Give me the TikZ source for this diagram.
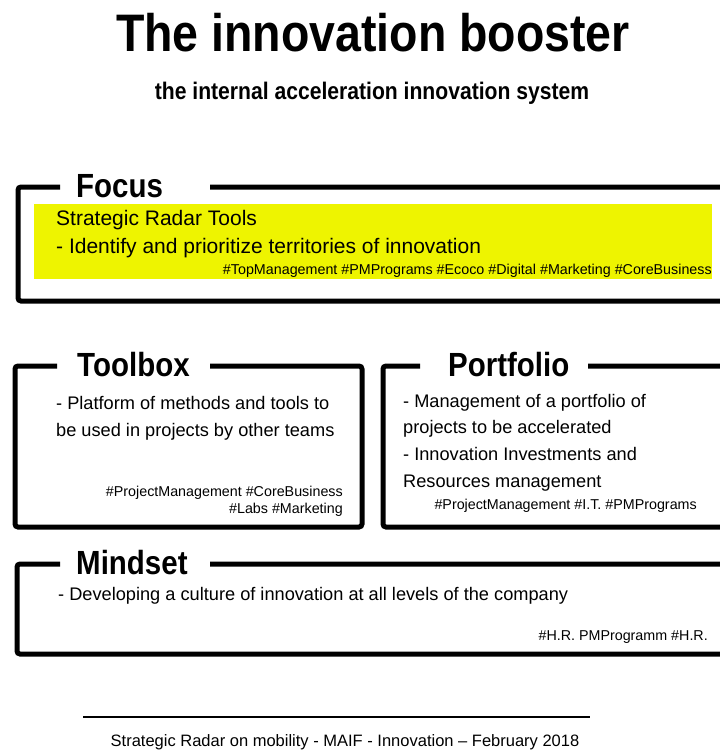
\documentclass[tikz,border=0pt]{standalone}
\usepackage{fontspec}
\setmainfont{Liberation Sans}
\newfontfamily\condfont[FakeStretch=0.88]{Liberation Sans}
\usetikzlibrary{positioning}
\definecolor{hiyel}{HTML}{EEF400}
\tikzset{
  frame/.style={draw=black,line width=5pt,rounded corners=3pt},
  ttl/.style={font=\condfont\bfseries\fontsize{52.8}{56}\selectfont,inner sep=0pt,anchor=base},
  sub/.style={font=\condfont\bfseries\fontsize{24}{27}\selectfont,inner sep=0pt,anchor=base},
  hd/.style={font=\condfont\bfseries\fontsize{33.5}{36}\selectfont,inner sep=0pt,anchor=base west},
  big/.style={font=\fontsize{21}{24}\selectfont,inner sep=0pt,anchor=base west},
  txt/.style={font=\fontsize{18.2}{22}\selectfont,inner sep=0pt,anchor=base west},
  tag/.style={font=\fontsize{14.3}{18}\selectfont,inner sep=0pt,anchor=base east},
  foot/.style={font=\fontsize{16.5}{20}\selectfont,inner sep=0pt,anchor=base},
}
\begin{document}
\begin{tikzpicture}[x=1pt,y=-1pt]
  \useasboundingbox (0,0) rectangle (720,753);
  \clip (0,0) rectangle (720,753);
  % titre
  \node[ttl] (title) at (373,51) {The innovation booster};
  \node[sub] (subtitle) at (372,99) {the internal acceleration innovation system};
  % Focus
  \fill[hiyel] (34,204) rectangle (712,279);
  \draw[frame] (60,187) -| (18,301) -| (760,187) -- (210,187);
  \node[hd] (focus) at (76,197) {Focus};
  \node[big] (f1) at (56,225) {Strategic Radar Tools};
  \node[big] (f2) at (56,253) {- Identify and prioritize territories of innovation};
  \node[tag] (ftag) at (712,274) {\#TopManagement \#PMPrograms \#Ecoco \#Digital \#Marketing \#CoreBusiness};
  % Toolbox
  \draw[frame] (57,366) -| (15,527) -| (362,366) -- (210,366);
  \node[hd] (toolbox) at (77,376) {Toolbox};
  \foreach \t [count=\i] in {- Platform of methods and tools to,be used in projects by other teams}
    \node[txt] (t\i) at (56,409+27*\i-27) {\t};
  \node[tag] (ttag1) at (343,496) {\#ProjectManagement \#CoreBusiness};
  \node[tag] (ttag2) at (343,513) {\#Labs \#Marketing};
  % Portfolio
  \draw[frame] (420,366) -| (383,527) -| (760,366) -- (588,366);
  \node[hd] (portfolio) at (448,376) {Portfolio};
  \foreach \t [count=\i] in {- Management of a portfolio of,projects to be accelerated,- Innovation Investments and,Resources management}
    \node[txt] (p\i) at (403,407+26.7*\i-26.7) {\t};
  \node[tag] (ptag) at (697,509) {\#ProjectManagement \#I.T. \#PMPrograms};
  % Mindset
  \draw[frame] (60,564) -| (17,654) -| (760,564) -- (210,564);
  \node[hd] (mindset) at (76,574) {Mindset};
  \node[txt] (m1) at (58,600) {- Developing a culture of innovation at all levels of the company};
  \node[tag] (mtag) at (708,640) {\#H.R. PMProgramm \#H.R.};
  % pied de page
  \coordinate (fl) at (83,717);
  \coordinate (fr) at (590,717);
  \draw[line width=2pt] (fl) -- (fr);
  \node[foot] (footer) at (345,746) {Strategic Radar on mobility - MAIF - Innovation -- February 2018};
\end{tikzpicture}
\end{document}
